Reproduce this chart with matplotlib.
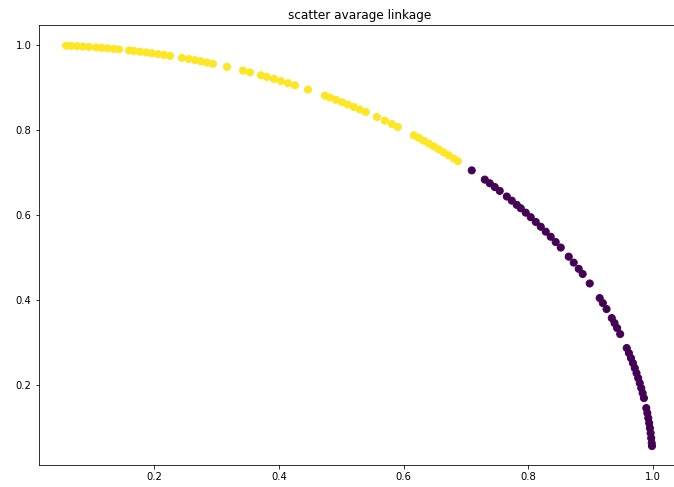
import matplotlib
matplotlib.use("Agg")
import matplotlib.pyplot as plt

title = "scatter avarage linkage"

# cluster 1 (yellow)
x_yellow = [0.0581, 0.0661, 0.0757, 0.0853, 0.0949, 0.1062, 0.1158, 0.1254, 0.1350, 0.1431,
            0.1591, 0.1671, 0.1767, 0.1864, 0.1960, 0.2056, 0.2152, 0.2249, 0.2441, 0.2553,
            0.2650, 0.2746, 0.2842, 0.2938, 0.3163, 0.3419, 0.3532, 0.3708, 0.3804, 0.3917,
            0.4029, 0.4141, 0.4253, 0.4462, 0.4735, 0.4815, 0.4911, 0.5007, 0.5103, 0.5200,
            0.5296, 0.5392, 0.5569, 0.5697, 0.5809, 0.5905, 0.6162, 0.6242, 0.6322, 0.6403,
            0.6483, 0.6563, 0.6643, 0.6723, 0.6804, 0.6868]
y_yellow = [0.9983, 0.9978, 0.9971, 0.9964, 0.9955, 0.9943, 0.9933, 0.9921, 0.9908, 0.9897,
            0.9872, 0.9859, 0.9843, 0.9825, 0.9806, 0.9786, 0.9766, 0.9744, 0.9698, 0.9669,
            0.9643, 0.9616, 0.9587, 0.9558, 0.9487, 0.9397, 0.9355, 0.9287, 0.9248, 0.9201,
            0.9152, 0.9102, 0.9051, 0.8950, 0.8808, 0.8764, 0.8711, 0.8656, 0.8600, 0.8542,
            0.8483, 0.8422, 0.8306, 0.8219, 0.8140, 0.8071, 0.7875, 0.7813, 0.7748, 0.7681,
            0.7614, 0.7545, 0.7475, 0.7403, 0.7328, 0.7268]

# cluster 0 (purple)
x_purple = [0.7092, 0.7301, 0.7381, 0.7461, 0.7541, 0.7654, 0.7734, 0.7814, 0.7878, 0.7958,
            0.8038, 0.8119, 0.8199, 0.8279, 0.8359, 0.8439, 0.8520, 0.8648, 0.8728, 0.8808,
            0.8872, 0.8985, 0.9145, 0.9196, 0.9255, 0.9339, 0.9383, 0.9425, 0.9474, 0.9579,
            0.9614, 0.9647, 0.9678, 0.9708, 0.9736, 0.9763, 0.9788, 0.9812, 0.9834, 0.9855,
            0.9893, 0.9910, 0.9925, 0.9939, 0.9951, 0.9962, 0.9972, 0.9980, 0.9984]
y_purple = [0.7050, 0.6833, 0.6747, 0.6658, 0.6568, 0.6436, 0.6339, 0.6240, 0.6159, 0.6056,
            0.5949, 0.5838, 0.5725, 0.5609, 0.5489, 0.5365, 0.5235, 0.5021, 0.4881, 0.4735,
            0.4613, 0.4390, 0.4047, 0.3929, 0.3788, 0.3576, 0.3459, 0.3341, 0.3200, 0.2871,
            0.2753, 0.2635, 0.2518, 0.2400, 0.2282, 0.2165, 0.2047, 0.1929, 0.1812, 0.1694,
            0.1459, 0.1341, 0.1224, 0.1106, 0.0988, 0.0871, 0.0753, 0.0635, 0.0565]

xs = x_yellow + x_purple
ys = y_yellow + y_purple
labels = [1] * len(x_yellow) + [0] * len(x_purple)

xticks = [0.2, 0.4, 0.6, 0.8, 1.0]
yticks = [0.2, 0.4, 0.6, 0.8, 1.0]

fig = plt.figure(figsize=(674 / 72, 487 / 72), dpi=72)
ax = fig.add_axes([38.6 / 674, 22 / 487, (681 - 38.6) / 674, 440 / 487])
ax.scatter(xs, ys, c=labels, cmap="viridis", s=50)
ax.set_xlim(0.014, 1.045)
ax.set_ylim(0.012, 1.047)
ax.set_xticks(xticks)
ax.set_yticks(yticks)
ax.tick_params(labelsize=10)
ax.set_title(title, fontsize=12)
fig.savefig("out.png", dpi=72)
